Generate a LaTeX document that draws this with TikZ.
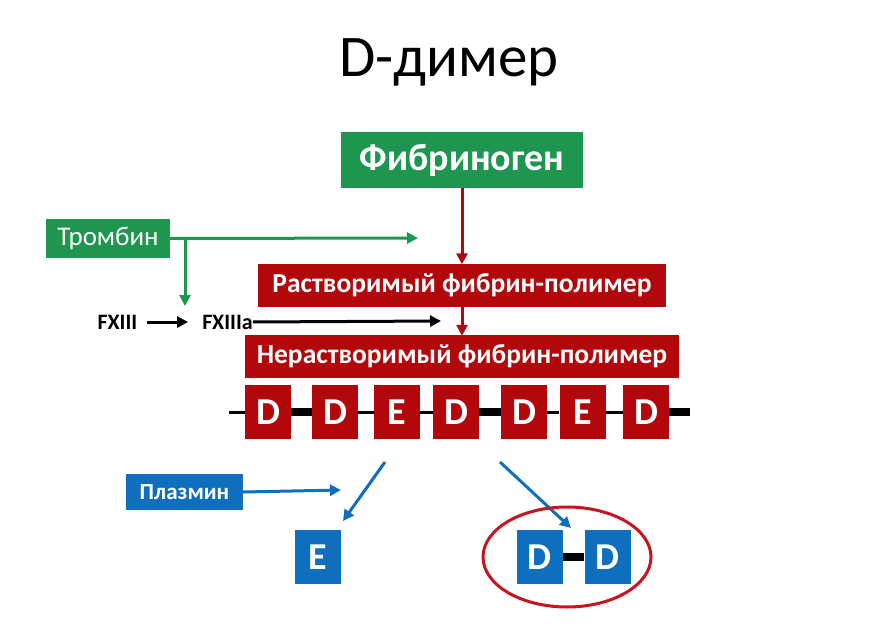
\documentclass[tikz,border=0pt]{standalone}
\usepackage{fontspec}
\setmainfont{Carlito}
\usetikzlibrary{arrows.meta,shapes.geometric}
\definecolor{gr}{RGB}{30,150,80}
\definecolor{rd}{RGB}{178,8,12}
\definecolor{bl}{RGB}{16,110,190}
\definecolor{ell}{RGB}{200,20,30}
\begin{document}
\begin{tikzpicture}[x=1pt,y=-1pt,
  gbox/.style={fill=gr,text=white,inner sep=0,font=\fontsize{27}{29}\selectfont},
  rbox/.style={fill=rd,text=white,inner sep=0,font=\bfseries\fontsize{27.5}{29}\selectfont},
  dbox/.style={fill=rd,text=white,inner sep=0,minimum width=46,minimum height=54,font=\bfseries\fontsize{38}{40}\selectfont},
  bbox/.style={fill=bl,text=white,inner sep=0,minimum width=46,minimum height=54,font=\bfseries\fontsize{38}{40}\selectfont},
  lbl/.style={inner sep=0,font=\bfseries\fontsize{22}{24}\selectfont},
  garr/.style={draw=gr,line width=3,-{Triangle[length=11,width=11]}},
  rarr/.style={draw=rd,line width=3,-{Triangle[length=11,width=11]}},
  barr/.style={draw=bl,line width=3,-{Triangle[length=11,width=11]}},
  karr/.style={draw=black,line width=3,-{Triangle[length=11,width=11]}},
  thinlink/.style={line width=3},
  thicklink/.style={line width=8}]
\useasboundingbox (0,0) rectangle (886,631);
\fill[white] (0,0) rectangle (886,631);

\node[inner sep=0,font=\fontsize{59}{62}\selectfont] (title) at (449,62) {D-димер};

\node[gbox,minimum width=242,minimum height=56,font=\bfseries\fontsize{38}{40}\selectfont] (fg) at (462,160) {Фибриноген};
\node[gbox,minimum width=124,minimum height=39] (tr) at (108,238.5) {Тромбин};
\node[rbox,minimum width=408,minimum height=43] (sol) at (462,285) {Растворимый фибрин-полимер};
\node[rbox,minimum width=434,minimum height=43] (ins) at (462,356.5) {Нерастворимый фибрин-полимер};

\node[lbl] (f13) at (117.5,322) {FXIII};
\node[lbl] (f13a) at (227.5,322) {FXIIIa};

\coordinate (gend) at (418,238);
\coordinate (gbr) at (185,238);
\coordinate (gbrend) at (185,306);
\coordinate (kend) at (441,321);

\draw[garr] (tr.east) -- (gend);
\draw[garr] (gbr) -- (gbrend);
\draw[rarr] (fg.south) -- ([yshift=-1]sol.north);
\draw[rarr] (sol.south) -- ([yshift=-1]ins.north);
\draw[karr] ([xshift=10]f13.east) -- ([xshift=-14]f13a.west);
\draw[karr] (f13a.east) -- (kend);

% chain
\node[dbox] (c1) at (268,412) {D};
\node[dbox] (c2) at (335,412) {D};
\node[dbox] (c3) at (397,412) {E};
\node[dbox] (c4) at (456,412) {D};
\node[dbox] (c5) at (524,412) {D};
\node[dbox] (c6) at (582.5,412) {E};
\node[dbox] (c7) at (646,412) {D};
\coordinate (cst) at (229,412);
\coordinate (cen) at (690,412);
\draw[thinlink] (cst) -- (c1.west);
\draw[thicklink] (c1.east) -- (c2.west);
\draw[thinlink] (c2.east) -- (c3.west);
\draw[thinlink] (c3.east) -- (c4.west);
\draw[thicklink] (c4.east) -- (c5.west);
\draw[thinlink] (c5.east) -- (c6.west);
\draw[thinlink] (c6.east) -- (c7.west);
\draw[thicklink] (c7.east) -- (cen);

% plasmin part
\node[fill=bl,text=white,inner sep=0,minimum width=117,minimum height=36,font=\bfseries\fontsize{23}{25}\selectfont] (pl) at (184.5,492) {Плазмин};
\coordinate (plend) at (341,490);
\draw[barr] (pl.east) -- (plend);

\node[bbox] (e1) at (318,557) {E};
\node[bbox] (dd1) at (539.5,557) {D};
\node[bbox] (dd2) at (607.5,557) {D};
\draw[thicklink] (dd1.east) -- (dd2.west);

\coordinate (a1s) at (385,462);
\coordinate (a1e) at (343,521);
\coordinate (a2s) at (500,462);
\coordinate (a2e) at (571,528);
\draw[barr] (a1s) -- (a1e);
\draw[barr] (a2s) -- (a2e);

\node[draw=ell,line width=3,ellipse,minimum width=168,minimum height=100,inner sep=0] (ov) at (567,557) {};
\end{tikzpicture}
\end{document}
